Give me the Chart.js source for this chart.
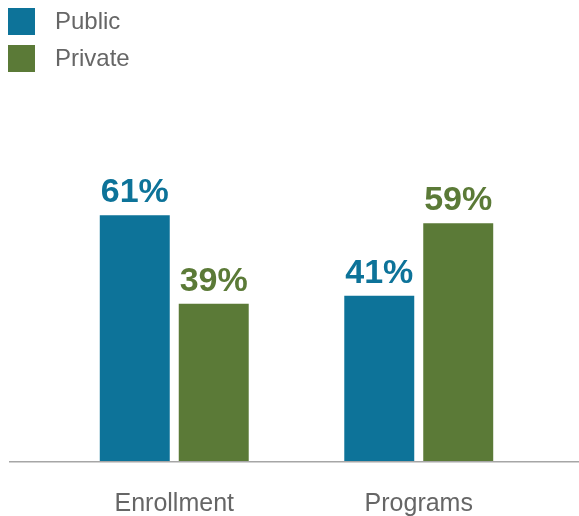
<!DOCTYPE html>
<html>
<head>
<meta charset="utf-8">
<title>Public vs Private</title>
<script src="https://cdn.jsdelivr.net/npm/chart.js@4.4.1/dist/chart.umd.min.js"></script>
<style>
  html, body { margin: 0; padding: 0; background: #fff; }
  #wrap { width: 579px; height: 516px; }
</style>
</head>
<body>
<div id="wrap"><canvas id="share"></canvas></div>
<script>
const categories = ['Enrollment', 'Programs'];
const publicShare = [61, 41];
const privateShare = [39, 59];
const seriesNames = ['Public', 'Private'];
const seriesColors = ['#0d7399', '#5b7a37'];

const FONT = '"Liberation Sans", Arial, Helvetica, sans-serif';

// long grey baseline under the bars, running past the plot area
const baseline = {
    id: 'baseline',
    beforeDatasetsDraw(chart) {
        const ctx = chart.ctx;
        const y = chart.scales.y.getPixelForValue(0);
        ctx.save();
        ctx.strokeStyle = '#a6a6a6';
        ctx.lineWidth = 1.5;
        ctx.beginPath();
        ctx.moveTo(9, y + 0.75);
        ctx.lineTo(chart.width, y + 0.75);
        ctx.stroke();
        ctx.restore();
    }
};

// percentage above each bar, in the bar's colour
const valueLabels = {
    id: 'valueLabels',
    afterDatasetsDraw(chart) {
        const ctx = chart.ctx;
        ctx.save();
        ctx.font = 'bold 34px ' + FONT;
        ctx.textAlign = 'center';
        ctx.textBaseline = 'alphabetic';
        chart.data.datasets.forEach((ds, i) => {
            chart.getDatasetMeta(i).data.forEach((bar, j) => {
                ctx.fillStyle = ds.backgroundColor;
                ctx.fillText(ds.data[j] + '%', bar.x, bar.y - 13);
            });
        });
        ctx.restore();
    }
};

// stacked legend in the top-left corner
const cornerLegend = {
    id: 'cornerLegend',
    afterDraw(chart) {
        const ctx = chart.ctx;
        ctx.save();
        ctx.font = '24px ' + FONT;
        ctx.textBaseline = 'middle';
        chart.data.datasets.forEach((ds, i) => {
            const top = 8 + i * 37;
            ctx.fillStyle = ds.backgroundColor;
            ctx.fillRect(8, top, 27, 27);
            ctx.fillStyle = '#666';
            ctx.fillText(ds.label, 55, top + 14);
        });
        ctx.restore();
    }
};

new Chart(document.getElementById('share'), {
    type: 'bar',
    data: {
        labels: categories,
        datasets: [{
            label: seriesNames[0],
            data: publicShare,
            backgroundColor: seriesColors[0]
        }, {
            label: seriesNames[1],
            data: privateShare,
            backgroundColor: seriesColors[1]
        }]
    },
    options: {
        responsive: true,
        maintainAspectRatio: false,
        animation: false,
        categoryPercentage: 0.646,
        barPercentage: 0.886,
        layout: {
            padding: { top: 58, left: 52, right: 38, bottom: 0 }
        },
        scales: {
            x: {
                grid: { display: false },
                border: { display: false },
                ticks: {
                    padding: 20,
                    color: '#666',
                    font: { family: FONT, size: 25 }
                },
                afterFit(scale) {
                    scale.height = 55;
                }
            },
            y: {
                display: false,
                min: 0,
                max: 100
            }
        },
        plugins: {
            legend: { display: false },
            tooltip: { enabled: false }
        }
    },
    plugins: [baseline, valueLabels, cornerLegend]
});
</script>
</body>
</html>
